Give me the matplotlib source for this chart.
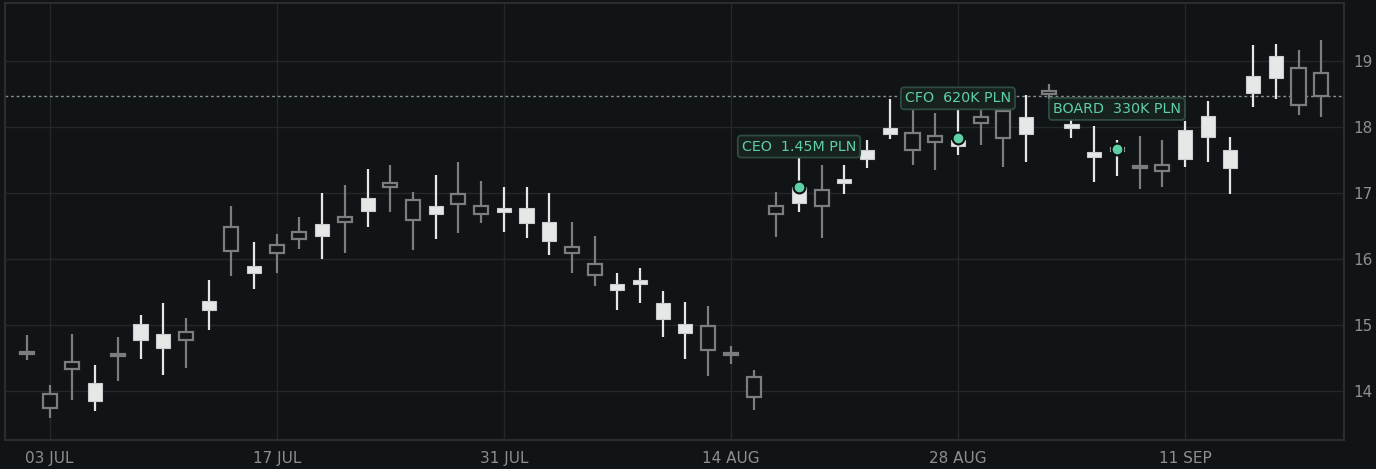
import matplotlib
matplotlib.use("Agg")
import matplotlib.pyplot as plt
import pandas as pd

# trading days starting 02 JUL
dates = pd.bdate_range("2025-07-02", periods=58)

# body top / bottom, high / low per candle; up = white filled, down = grey hollow
body_top = [14.60, 13.95, 14.44, 14.12, 14.57, 15.01, 14.86, 14.90, 15.36, 16.49,
            15.89, 16.22, 16.41, 16.53, 16.64, 16.92, 17.16, 16.90, 16.81, 16.98,
            16.81, 16.78, 16.77, 16.56, 16.19, 15.92, 15.62, 15.68, 15.34, 15.01,
            14.98, 14.58, 14.22, 16.81, 17.10, 17.04, 17.21, 17.66, 17.98, 17.91,
            17.87, 17.81, 18.16, 18.25, 18.15, 18.55, 18.04, 17.62, 17.70, 17.41,
            17.42, 17.95, 18.17, 17.65, 18.77, 19.08, 18.90, 18.82]
body_bot = [14.57, 13.74, 14.33, 13.85, 14.54, 14.77, 14.66, 14.78, 15.23, 16.13,
            15.79, 16.09, 16.31, 16.35, 16.56, 16.73, 17.10, 16.60, 16.69, 16.83,
            16.68, 16.71, 16.54, 16.28, 16.09, 15.76, 15.54, 15.63, 15.10, 14.88,
            14.63, 14.55, 13.91, 16.68, 16.85, 16.81, 17.16, 17.51, 17.90, 17.66,
            17.77, 17.71, 18.06, 17.84, 17.90, 18.50, 17.98, 17.55, 17.64, 17.38,
            17.33, 17.52, 17.85, 17.38, 18.52, 18.75, 18.33, 18.47]
highs = [14.85, 14.09, 14.86, 14.39, 14.82, 15.15, 15.33, 15.11, 15.68, 16.80,
         16.26, 16.38, 16.64, 17.00, 17.12, 17.36, 17.42, 17.02, 17.27, 17.47,
         17.18, 17.09, 17.09, 17.00, 16.56, 16.35, 15.79, 15.86, 15.52, 15.35,
         15.29, 14.68, 14.32, 17.02, 17.53, 17.42, 17.43, 17.81, 18.43, 18.26,
         18.22, 18.26, 18.41, 18.45, 18.48, 18.65, 18.25, 18.02, 17.81, 17.87,
         17.80, 18.10, 18.39, 17.85, 19.24, 19.26, 19.17, 19.32]
lows = [14.47, 13.59, 13.87, 13.70, 14.15, 14.48, 14.24, 14.35, 14.92, 15.74,
        15.55, 15.79, 16.15, 16.00, 16.09, 16.48, 16.71, 16.14, 16.30, 16.39,
        16.55, 16.41, 16.32, 16.06, 15.79, 15.59, 15.23, 15.33, 14.82, 14.48,
        14.23, 14.41, 13.71, 16.34, 16.72, 16.32, 16.99, 17.38, 17.82, 17.43,
        17.35, 17.57, 17.73, 17.40, 17.47, 18.43, 17.84, 17.17, 17.26, 17.07,
        17.10, 17.40, 17.47, 16.99, 18.31, 18.43, 18.19, 18.16]
is_up = [0, 0, 0, 1, 0, 1, 1, 0, 1, 0,
         1, 0, 0, 1, 0, 1, 0, 0, 1, 0,
         0, 1, 1, 1, 0, 0, 1, 1, 1, 1,
         0, 0, 0, 0, 1, 0, 1, 1, 1, 0,
         0, 1, 0, 0, 1, 0, 1, 1, 1, 0,
         0, 1, 1, 1, 1, 1, 0, 0]

# insider trades
trade_idx = [34, 41, 48]
trade_price = [17.10, 17.83, 17.67]
trade_labels = ["CEO  1.45M PLN", "CFO  620K PLN", "BOARD  330K PLN"]

ref_level = 18.47

BG = "#111416"
UP = "#e6e8e8"
DOWN = "#7a7e7e"
GRID = "#24282a"
TEXT = "#8c9090"
GREEN = "#5fd0a6"

fig = plt.figure(figsize=(13.76, 4.69), dpi=100, facecolor=BG)
ax = fig.add_axes([0.0036, 0.0618, 0.9731, 0.9318], facecolor=BG)

xs = list(range(len(dates)))
for i in xs:
    col = UP if is_up[i] else DOWN
    ax.vlines(i, lows[i], highs[i], color=col, lw=1.6, zorder=2)
    h = max(body_top[i] - body_bot[i], 0.02)
    if is_up[i]:
        ax.bar(i, h, bottom=body_bot[i], width=0.62, color=UP,
               edgecolor="#c9cdcd", lw=0.8, zorder=3)
    else:
        ax.bar(i, h, bottom=body_bot[i], width=0.62, color=BG,
               edgecolor=DOWN, lw=1.6, zorder=3)

ax.axhline(ref_level, color="#8a9090", lw=1, ls=(0, (2, 2)), zorder=1)

for i, p, lab in zip(trade_idx, trade_price, trade_labels):
    ax.plot(i, p, "o", ms=8.5, color=GREEN, mec="#0d1010", mew=1.5, zorder=5)
    ax.annotate(lab, (i, p), xytext=(0, 40), textcoords="offset pixels",
                ha="center", va="center", fontsize=10.3, color=GREEN, zorder=6,
                bbox=dict(boxstyle="round,pad=0.28,rounding_size=0.25",
                          fc="#17221f", ec="#304c42", lw=1.3))

tick_pos = list(range(1, len(dates), 10))
ax.set_xticks(tick_pos)
ax.set_xticklabels([dates[i].strftime("%d %b").upper() for i in tick_pos])
ax.set_xlim(-0.97, 58.0)
ax.set_ylim(13.26, 19.88)
ax.set_yticks([14, 15, 16, 17, 18, 19])
ax.yaxis.tick_right()
ax.tick_params(colors=TEXT, labelsize=11, length=0)
ax.tick_params(axis="y", pad=7)
ax.tick_params(axis="x", pad=8)
ax.grid(True, color=GRID, lw=1, zorder=0)
ax.set_axisbelow(True)
for s in ax.spines.values():
    s.set_color("#2a2e30")
    s.set_linewidth(1.5)

fig.savefig("out.png", dpi=100, facecolor=BG)
